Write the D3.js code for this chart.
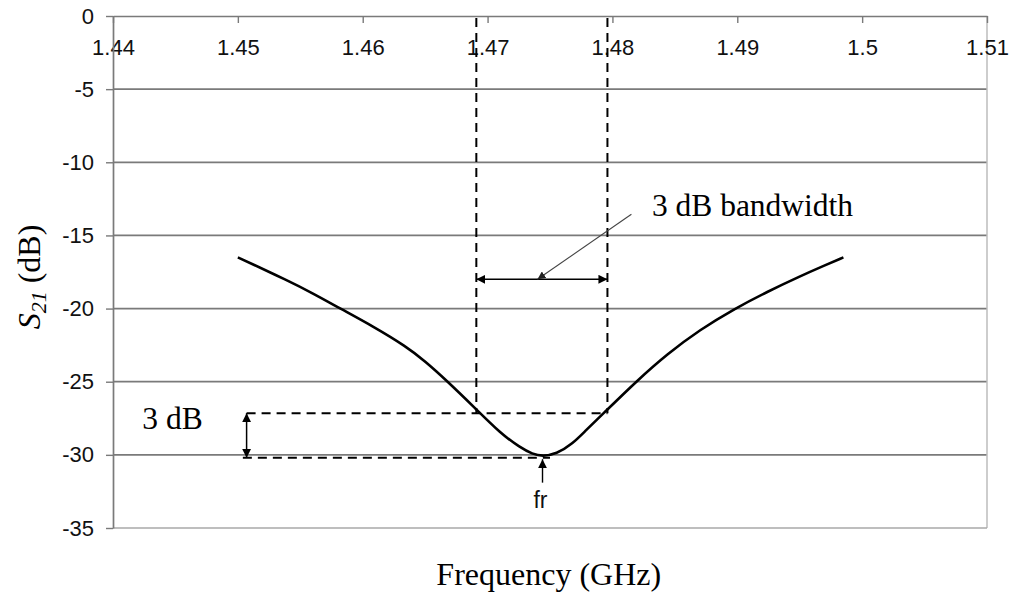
<!DOCTYPE html>
<html>
<head>
<meta charset="utf-8">
<script src="https://cdn.jsdelivr.net/npm/d3@7"></script>
<style>
  body { margin: 0; background: #fff; }
</style>
</head>
<body>
<div id="chart"></div>
<script>
// measured S21 response (GHz, dB)
const freqGHz = [1.4500, 1.4510, 1.4539, 1.4560, 1.4582, 1.4608, 1.4635, 1.4650, 1.4667, 1.4690,
                 1.4710, 1.4726, 1.4736, 1.4744, 1.4755, 1.4768, 1.4779, 1.4790, 1.4820, 1.4844,
                 1.4870, 1.4898, 1.4924, 1.4950, 1.4970, 1.4985];
const s21dB = [-16.5, -16.9, -18.05, -18.95, -20.0, -21.2, -22.6, -23.6, -24.9, -26.8,
               -28.5, -29.5, -29.95, -30.1, -29.95, -29.25, -28.3, -27.4, -24.9, -23.1,
               -21.45, -20.0, -18.85, -17.8, -17.05, -16.5];

const xTicks = [1.44, 1.45, 1.46, 1.47, 1.48, 1.49, 1.5, 1.51];
const yTicks = [0, -5, -10, -15, -20, -25, -30, -35];

// annotation anchors, in data units
const bandEdges = [1.4691, 1.4796];   // 3 dB points
const level3dB = -27.15;
const levelMin = -30.2;
const levelBandArrow = -18.0;
const freqDropArrow = 1.4507;         // the "3 dB" double arrow
const freqLowDashStart = 1.4504;
const freqRes = 1.4744;               // fr
const leaderFrom = [1.48152, -13.55];
const leaderTo = [1.4740, -18.0];

const width = 1012, height = 596;
const margin = {top: 16, right: 25, bottom: 68, left: 113};
const w = width - margin.left - margin.right;
const h = height - margin.top - margin.bottom;

const x = d3.scaleLinear().domain([1.44, 1.51]).range([0, w]);
const y = d3.scaleLinear().domain([-35, 0]).range([h, 0]);

const svg = d3.select("#chart").append("svg")
  .attr("width", width)
  .attr("height", height);

const defs = svg.append("defs");
function marker(id, size, color) {
  defs.append("marker")
    .attr("id", id)
    .attr("viewBox", "0 0 10 10")
    .attr("refX", 10).attr("refY", 5)
    .attr("markerUnits", "userSpaceOnUse")
    .attr("markerWidth", size).attr("markerHeight", size)
    .attr("orient", "auto-start-reverse")
    .append("path")
    .attr("d", "M0,0 L10,5 L0,10 Z")
    .attr("fill", color);
}
marker("arrow", 9, "#000");
marker("arrowSmall", 8, "#222");

const main = svg.append("g")
  .attr("transform", "translate(" + margin.left + "," + margin.top + ")");

// horizontal gridlines
main.append("g").selectAll("line")
  .data(yTicks.filter(d => d !== 0 && d !== -35))
  .enter().append("line")
  .attr("x1", 0).attr("x2", w)
  .attr("y1", d => y(d)).attr("y2", d => y(d))
  .style("stroke", "#7a7a7a")
  .style("stroke-width", 1.7);

// right and bottom frame
main.append("line")
  .attr("x1", w).attr("x2", w).attr("y1", 0).attr("y2", h)
  .style("stroke", "#bdbdbd").style("stroke-width", 1.5);
main.append("line")
  .attr("x1", 0).attr("x2", w).attr("y1", h).attr("y2", h)
  .style("stroke", "#a8a8a8").style("stroke-width", 1.5);

// X axis along the top, ticks pointing down, labels below
const xAxis = d3.axisBottom(x)
  .tickValues(xTicks)
  .tickSizeInner(7).tickSizeOuter(0)
  .tickPadding(16)
  .tickFormat(d => String(+d.toFixed(2)));
const gx = main.append("g").attr("id", "xAxis").call(xAxis);

// Y axis
const yAxis = d3.axisLeft(y)
  .tickValues(yTicks)
  .tickSizeInner(7).tickSizeOuter(0)
  .tickPadding(12)
  .tickFormat(d => String(d));
const gy = main.append("g").attr("id", "yAxis").call(yAxis);

[gx, gy].forEach(g => {
  g.select(".domain").style("stroke", "#7a7a7a").style("stroke-width", 1.7);
  g.selectAll(".tick line").style("stroke", "#7a7a7a").style("stroke-width", 1.4);
  g.selectAll(".tick text")
    .style("font-family", "'Liberation Sans', Arial, sans-serif")
    .style("font-size", "22px")
    .style("fill", "#111");
});

// dashed guide lines
const dash = main.append("g")
  .style("stroke", "#000")
  .style("stroke-width", 2)
  .style("stroke-dasharray", "9,6")
  .style("fill", "none");
bandEdges.forEach(f => {
  dash.append("line")
    .attr("x1", x(f)).attr("x2", x(f))
    .attr("y1", y(0) + 2).attr("y2", y(level3dB));
});
dash.append("line")
  .attr("x1", x(freqDropArrow)).attr("x2", x(bandEdges[1]))
  .attr("y1", y(level3dB)).attr("y2", y(level3dB));
dash.append("line")
  .attr("x1", x(freqLowDashStart)).attr("x2", x(1.4750))
  .attr("y1", y(levelMin)).attr("y2", y(levelMin));

// response curve
const line = d3.line()
  .x((d, i) => x(freqGHz[i]))
  .y(d => y(d))
  .curve(d3.curveBasis);
main.append("path")
  .datum(s21dB)
  .attr("d", line)
  .style("fill", "none")
  .style("stroke", "#000")
  .style("stroke-width", 2.6);

// 3 dB bandwidth double arrow
main.append("line")
  .attr("x1", x(bandEdges[0])).attr("x2", x(bandEdges[1]))
  .attr("y1", y(levelBandArrow)).attr("y2", y(levelBandArrow))
  .attr("marker-start", "url(#arrow)")
  .attr("marker-end", "url(#arrow)")
  .style("stroke", "#000").style("stroke-width", 1.6);

// leader line from the label
main.append("line")
  .attr("x1", x(leaderFrom[0])).attr("y1", y(leaderFrom[1]))
  .attr("x2", x(leaderTo[0])).attr("y2", y(leaderTo[1]))
  .attr("marker-end", "url(#arrowSmall)")
  .style("stroke", "#444").style("stroke-width", 1.1);

// 3 dB drop double arrow
main.append("line")
  .attr("x1", x(freqDropArrow)).attr("x2", x(freqDropArrow))
  .attr("y1", y(level3dB)).attr("y2", y(levelMin))
  .attr("marker-start", "url(#arrow)")
  .attr("marker-end", "url(#arrow)")
  .style("stroke", "#000").style("stroke-width", 1.5);

// fr arrow
main.append("line")
  .attr("x1", x(freqRes)).attr("x2", x(freqRes))
  .attr("y1", y(-31.9)).attr("y2", y(-30.3))
  .attr("marker-end", "url(#arrow)")
  .style("stroke", "#000").style("stroke-width", 1.4);

main.append("text")
  .attr("x", x(freqRes) - 2).attr("y", y(-33.6))
  .attr("text-anchor", "middle")
  .style("font-family", "'Liberation Sans', Arial, sans-serif")
  .style("font-size", "23px")
  .style("fill", "#111")
  .text("fr");

const serif = "'Liberation Serif', 'Times New Roman', serif";

main.append("text")
  .attr("x", x(1.48316)).attr("y", y(-13.65))
  .style("font-family", serif).style("font-size", "31.5px")
  .text("3 dB bandwidth");

main.append("text")
  .attr("x", x(1.44235)).attr("y", y(-28.25))
  .style("font-family", serif).style("font-size", "31.5px")
  .text("3 dB");

// axis titles
svg.append("text")
  .attr("x", margin.left + x(1.4749)).attr("y", 585)
  .attr("text-anchor", "middle")
  .style("font-family", serif).style("font-size", "32px")
  .text("Frequency (GHz)");

const yTitle = svg.append("text")
  .attr("transform", "translate(40,277) rotate(-90)")
  .attr("text-anchor", "middle")
  .style("font-family", serif).style("font-size", "32px");
yTitle.append("tspan").style("font-style", "italic").text("S");
yTitle.append("tspan").style("font-style", "italic").style("font-size", "22px")
  .attr("dy", 6).text("21");
yTitle.append("tspan").attr("dy", -6).text(" (dB)");
</script>
</body>
</html>
